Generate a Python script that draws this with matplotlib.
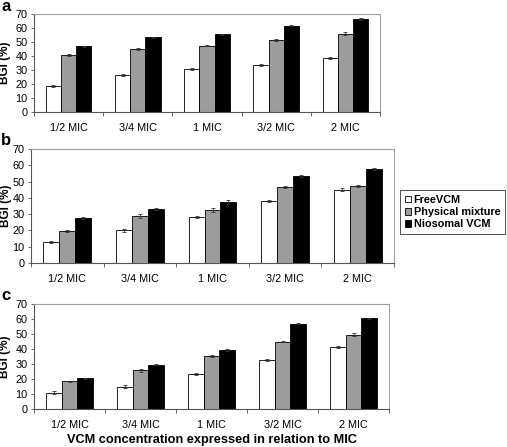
import numpy as np
from matplotlib import pyplot as plt

plt.rcParams['font.family'] = ['Liberation Sans', 'DejaVu Sans']

CATEGORIES = ['1/2 MIC', '3/4 MIC', '1 MIC', '3/2 MIC', '2 MIC']
SERIES = ['FreeVCM', 'Physical mixture', 'Niosomal VCM']
COLORS = ['white', '#9c9c9c', 'black']

# BGI (%) per panel, one list per series
A_FREE = [18.5, 26.5, 30.5, 33.5, 38.5]
A_PHYS = [40.5, 45.0, 47.5, 51.5, 56.0]
A_NIO = [47.0, 53.5, 55.5, 61.5, 66.5]
A_ERR = [[0.6, 0.7, 0.7, 0.5, 0.8], [0.6, 0.7, 0.7, 0.5, 0.8], [0.5, 0.4, 0.4, 0.3, 0.5]]

B_FREE = [13.0, 20.0, 28.5, 38.0, 45.0]
B_PHYS = [19.5, 29.0, 32.5, 46.5, 47.5]
B_NIO = [27.5, 33.0, 37.5, 53.5, 58.0]
B_ERR = [[0.6, 0.8, 0.6, 0.6, 0.8], [0.6, 1.2, 1.0, 0.5, 0.6], [0.5, 0.5, 1.2, 0.5, 0.6]]

C_FREE = [11.0, 15.0, 23.5, 32.5, 41.5]
C_PHYS = [18.5, 26.0, 35.5, 45.0, 49.5]
C_NIO = [20.5, 29.5, 39.5, 57.0, 60.5]
C_ERR = [[0.8, 1.0, 0.6, 0.6, 0.7], [0.5, 1.0, 0.8, 0.6, 0.9], [0.5, 0.4, 0.5, 0.3, 0.4]]

W, H = 507, 447
fig = plt.figure(figsize=(W / 100, H / 100), dpi=100)


def box(left, top, right, bottom):
    return [left / W, 1 - bottom / H, (right - left) / W, (bottom - top) / H]


def panel(rect, data, errs, ylabelpad, xlabel=False):
    ax = fig.add_axes(rect)
    x = np.arange(len(CATEGORIES))
    bw = 0.22
    for i, (vals, err) in enumerate(zip(data, errs)):
        ax.bar(x + (i - 1) * bw, vals, bw, color=COLORS[i], edgecolor='black',
               linewidth=0.6, yerr=err, capsize=1.2,
               error_kw=dict(elinewidth=0.6, capthick=0.6, ecolor='#333333'),
               label=SERIES[i])
    ax.set_xlim(-0.5, len(CATEGORIES) - 0.5)
    ax.set_ylim(0, 70)
    ax.set_yticks(range(0, 71, 10))
    ax.set_xticks(x)
    ax.set_xticklabels(CATEGORIES, fontsize=7.8)
    ax.set_xticks(np.arange(-0.5, len(CATEGORIES)), minor=True)
    ax.tick_params(axis='x', which='major', length=0, pad=8)
    ax.tick_params(axis='x', which='minor', length=3, width=0.6, color='#555555')
    ax.tick_params(axis='y', length=2.5, width=0.6, labelsize=7.8, pad=2, color='#555555')
    for side in ['top', 'right']:
        ax.spines[side].set_color('#a0a0a0')
        ax.spines[side].set_linewidth(0.8)
    for side in ['left', 'bottom']:
        ax.spines[side].set_color('#555555')
        ax.spines[side].set_linewidth(0.8)
    ax.set_ylabel('BGI (%)', fontsize=8.5, fontweight='bold', labelpad=ylabelpad)
    if xlabel:
        ax.set_xlabel('VCM concentration expressed in relation to MIC',
                      fontsize=9.2, fontweight='bold', labelpad=3)
    return ax


panel(box(34, 14, 380, 112), [A_FREE, A_PHYS, A_NIO], A_ERR, 3)
ax_b = panel(box(31, 149, 394, 263), [B_FREE, B_PHYS, B_NIO], B_ERR, 0.5)
panel(box(34, 304, 389, 409), [C_FREE, C_PHYS, C_NIO], C_ERR, 3, xlabel=True)

for letter, ypix in [('a', 11), ('b', 145), ('c', 300)]:
    fig.text(1 / W, 1 - ypix / H, letter, fontsize=12, fontweight='bold',
             ha='left', va='baseline')

handles, labels = ax_b.get_legend_handles_labels()
leg = fig.legend(handles, labels, loc='upper left', bbox_to_anchor=(400 / W, 1 - 190 / H),
                 prop=dict(weight='bold', size=7.8), frameon=True,
                 fancybox=False, edgecolor='black', handlelength=0.6, handleheight=0.6,
                 handletextpad=0.2, borderpad=0.45, labelspacing=0.2, borderaxespad=0)
leg.get_frame().set_linewidth(0.6)

fig.savefig('out.png', dpi=100)
